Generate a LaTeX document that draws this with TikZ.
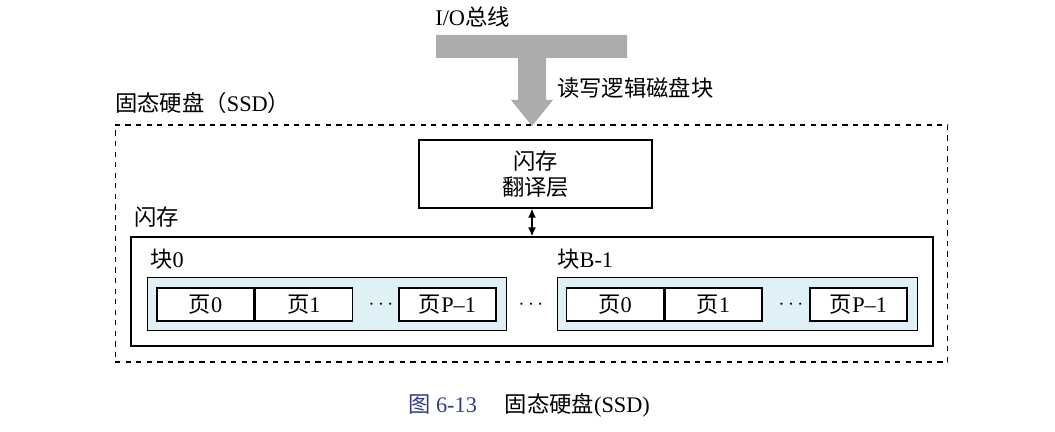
\documentclass[tikz,border=0pt]{standalone}
\usepackage{fontspec}
\setmainfont{Liberation Serif}
\newfontfamily\cjk{Noto Sans CJK SC}
\newcommand{\zh}[1]{{\cjk #1}}
\usetikzlibrary{arrows.meta,positioning}
\definecolor{blkfill}{RGB}{223,240,246}
\definecolor{capblue}{RGB}{45,62,140}

\begin{document}
\begin{tikzpicture}[
  x=0.02cm, y=-0.02cm,
  every node/.style={font=\fontsize{12.7}{15}\selectfont},
  box/.style={rectangle, draw, line width=0.8pt, align=center, inner sep=0pt},
  blk/.style={rectangle, draw, line width=0.6pt, fill=blkfill, minimum width=7.2cm, minimum height=1.06cm},
  pg/.style={rectangle, draw, line width=0.8pt, fill=white, minimum width=1.94cm, minimum height=0.66cm, inner sep=0pt},
  lbl/.style={anchor=west, inner sep=0pt},
  arr/.style={{Latex[length=1.8mm,width=1.6mm]}-{Latex[length=1.8mm,width=1.6mm]}, line width=0.8pt}
]
\useasboundingbox (0,0) rectangle (1055,432);

% I/O bus
\fill[gray!65] (436,35) -- (627,35) -- (627,58) -- (546,58) -- (546,100) -- (553,100)
  -- (532,126) -- (511,100) -- (518,100) -- (518,58) -- (436,58) -- cycle;
\node[lbl] (bus) at (435,17) {I/O\zh{总线}};
\node[lbl] (rw) at (557,88) {\zh{读写逻辑磁盘块}};

% SSD
\node[box, dashed, line width=0.6pt, minimum width=16.66cm, minimum height=4.74cm] (ssd) at (531.5,243.5) {};
\node[lbl] (ssdl) at (115,103) {\zh{固态硬盘（}SSD\zh{）}};

\node[box, minimum width=4.66cm, minimum height=1.36cm] (ftl) at (535.5,174) {\zh{闪存}\\\zh{翻译层}};

\node[box, minimum width=16.04cm, minimum height=2.18cm] (flash) at (532,291.5) {};
\node[lbl] (flashl) at (134,217) {\zh{闪存}};

\draw[arr] (ftl.south -| 532,0) -- (flash.north -| 532,0);

% block 0
\node[blk] (b0) at (327,304) {};
\node[lbl] (b0l) at (150,259) {\zh{块}0};
\node[pg] (p00) at (205.5,304.5) {\zh{页}0};
\node[pg, right=0pt of p00] (p01) {\zh{页}1};
\node[pg] (p0n) at (447.5,304.5) {\zh{页}P\textendash1};
\node (d0) at (381,304.5) {$\cdots$};

\node (dm) at (531,304.5) {$\cdots$};

% block B-1
\node[blk] (b1) at (737.5,304) {};
\node[lbl] (b1l) at (557,259) {\zh{块}B-1};
\node[pg] (p10) at (615,304.5) {\zh{页}0};
\node[pg, right=0pt of p10] (p11) {\zh{页}1};
\node[pg] (p1n) at (858.5,304.5) {\zh{页}P\textendash1};
\node (d1) at (791,304.5) {$\cdots$};

% caption
\node (cap) at (529,405) {\textcolor{capblue}{\zh{图} 6-13}\quad\ \zh{固态硬盘}(SSD)};
\end{tikzpicture}
\end{document}
